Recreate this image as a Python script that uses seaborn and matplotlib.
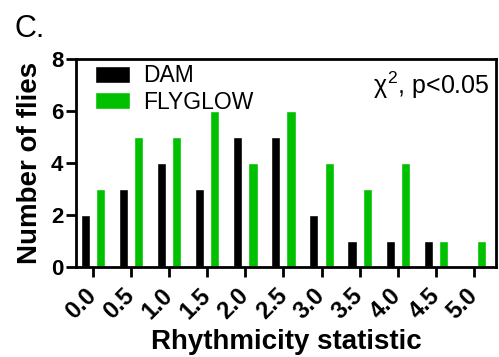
import pandas as pd
import seaborn as sns
import matplotlib.pyplot as plt

bins = ['0.0', '0.5', '1.0', '1.5', '2.0', '2.5', '3.0', '3.5', '4.0', '4.5', '5.0']
dam = [2, 3, 4, 3, 5, 5, 2, 1, 1, 1, 0]
flyglow = [3, 5, 5, 6, 4, 6, 4, 3, 4, 1, 1]

df = pd.DataFrame({
    'bin': bins * 2,
    'count': dam + flyglow,
    'method': ['DAM'] * len(bins) + ['FLYGLOW'] * len(bins),
})

sns.set_style('ticks')
plt.rcParams['font.family'] = ['Liberation Sans', 'DejaVu Sans']
plt.rcParams['text.color'] = 'black'
plt.rcParams['axes.labelcolor'] = 'black'
plt.rcParams['xtick.color'] = 'black'
plt.rcParams['ytick.color'] = 'black'
plt.rcParams['axes.edgecolor'] = 'black'
plt.rcParams['mathtext.fontset'] = 'custom'
plt.rcParams['mathtext.it'] = 'Liberation Sans'
plt.rcParams['mathtext.rm'] = 'Liberation Sans'

fig = plt.figure(figsize=(4.99, 3.57), dpi=100)
ax = fig.add_axes([0.152, 0.252, 0.842, 0.583])

sns.barplot(data=df, x='bin', y='count', hue='method', order=bins,
            palette={'DAM': 'black', 'FLYGLOW': '#00c000'},
            width=0.8, gap=0.4, ax=ax, saturation=1)

ax.set_xlim(-0.45, 10.58)
ax.set_ylim(0, 8)
ax.set_yticks([0, 2, 4, 6, 8])
for s in ax.spines.values():
    s.set_linewidth(2)
    s.set_visible(True)
ax.tick_params(width=2, length=7, labelsize=16, pad=2)
ax.tick_params(axis='x', pad=11, labelsize=17)
for lab in ax.get_yticklabels():
    lab.set_fontweight('bold')
for lab in ax.get_xticklabels():
    lab.set_fontweight('bold')
    lab.set_rotation(45)
    lab.set_ha('right')
    lab.set_va('center')
    lab.set_rotation_mode('anchor')

ax.set_xlabel('Rhythmicity statistic', fontsize=20, fontweight='bold', labelpad=4)
ax.set_ylabel('Number of flies', fontsize=20, fontweight='bold', labelpad=6)

ax.legend(loc='upper left', bbox_to_anchor=(0.045, 0.975), frameon=False,
          fontsize=16.5, handlelength=1.55, handleheight=0.75, borderaxespad=0,
          labelspacing=0.15, handletextpad=0.55, borderpad=0)
ax.text(0.985, 0.95, r'$\chi^2$, p<0.05', transform=ax.transAxes,
        ha='right', va='top', fontsize=18)

fig.text(0.03, 0.96, 'C.', fontsize=22, va='top', ha='left')

fig.savefig('out.png', dpi=100)
